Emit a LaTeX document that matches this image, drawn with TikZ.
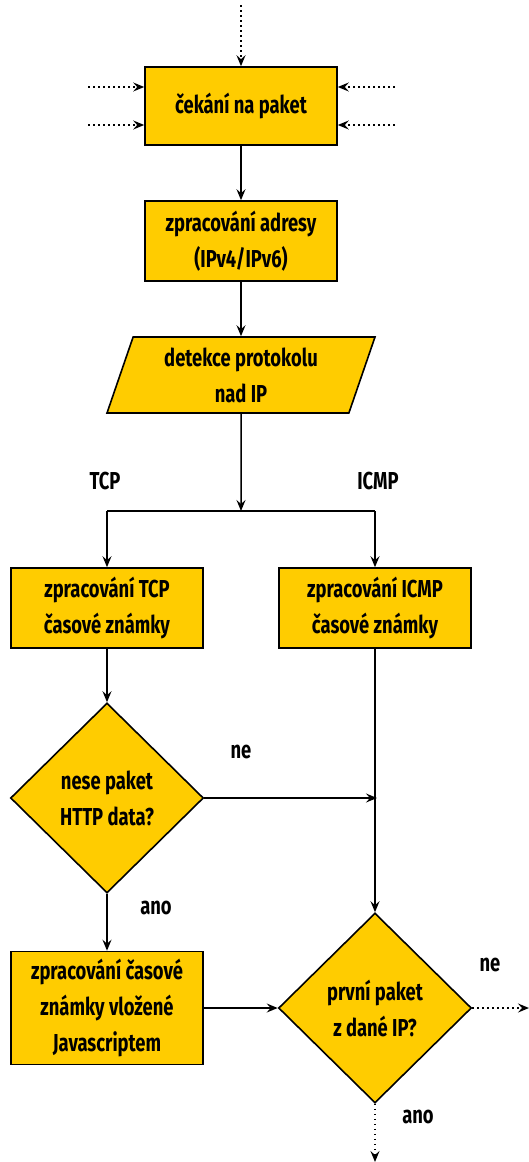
\documentclass[tikz,border=0pt]{standalone}
\usepackage{fontspec}
\setmainfont{Fira Sans}[FakeStretch=0.75]
\usetikzlibrary{arrows.meta,shapes.geometric,positioning}
\definecolor{boxfill}{RGB}{255,204,0}
\tikzset{
  txt/.style={font=\fontsize{24.5}{36}\selectfont\bfseries},
  base/.style={draw=black, line width=1.6pt, fill=boxfill, txt,
    align=center, inner sep=0pt},
  procbox/.style={base, rectangle, minimum width=192pt, minimum height=78pt},
  iobox/.style={base, trapezium, trapezium left angle=64.6, trapezium right angle=115.4,
    trapezium stretches body=true, minimum width=268pt, minimum height=76pt},
  decision/.style={base, diamond, minimum width=193pt, minimum height=190pt},
  lbl/.style={txt, inner sep=0pt},
  tip/.style={-{Stealth[length=11pt,width=9pt,inset=4pt]}},
  flow/.style={line width=1.5pt, tip},
  flowplain/.style={line width=1.5pt},
  ext/.style={line width=1.6pt, dash pattern=on 1.6pt off 3.4pt, tip}
}
\begin{document}
\begin{tikzpicture}[x=1pt,y=-1pt]
\useasboundingbox (0,0) rectangle (529,1162);

% process steps
\node[procbox] (wait) at (241,106) {čekání na paket};
\node[procbox, minimum height=80pt] (addr) at (241,241) {zpracování adresy\\(IPv4/IPv6)};
\node[iobox] (proto) at (241,375) {detekce protokolu\\nad IP};
\node[procbox, minimum height=80pt] (tcp) at (107,608) {zpracování TCP\\časové známky};
\node[procbox, minimum height=80pt] (icmp) at (375,608) {zpracování ICMP\\časové známky};
\node[decision] (http) at (107,798) {nese paket\\HTTP data?};
\node[procbox, minimum height=113pt] (js) at (107,1008) {zpracování časové\\známky vložené\\Javascriptem};
\node[decision] (first) at (375,1008) {první paket\\z dané IP?};

% helper points
\coordinate (topin) at (241,5);
\coordinate (inL1) at (88,87);
\coordinate (inL2) at (88,125);
\coordinate (inR1) at (395,87);
\coordinate (inR2) at (395,125);
\coordinate (split) at (241,511);
\coordinate (splitL) at (107,511);
\coordinate (splitR) at (375,511);
\coordinate (join) at (377,798);
\coordinate (outR) at (529,1008);
\coordinate (outB) at (375,1162);

% incoming packets
\draw[ext] (topin) -- (wait.north);
\draw[ext] (inL1) -- (inL1 -| wait.west);
\draw[ext] (inL2) -- (inL2 -| wait.west);
\draw[ext] (inR1) -- (inR1 -| wait.east);
\draw[ext] (inR2) -- (inR2 -| wait.east);

% main flow
\draw[flow] (wait) -- (addr);
\draw[flow] (addr) -- (proto);
\draw[flow] (proto.south) -- (split);
\draw[flowplain] (splitL) -- (splitR);
\draw[flow] (splitL) -- (tcp.north);
\draw[flow] (splitR) -- (icmp.north);
\draw[flow] (tcp) -- (http);
\draw[flow] (http.east) -- (join);
\draw[flow] (icmp.south) -- (first.north);
\draw[flow] (http.south) -- (js.north);
\draw[flow] (js.east) -- (first.west);
\draw[ext] (first.east) -- (outR);
\draw[ext] (first.south) -- (outB);

% branch labels
\node[lbl] (ltcp) at (105,481) {TCP};
\node[lbl] (licmp) at (378,481) {ICMP};
\node[lbl] (lne1) at (241,752) {ne};
\node[lbl] (lano1) at (156,908) {ano};
\node[lbl] (lne2) at (490,965) {ne};
\node[lbl] (lano2) at (418,1117) {ano};
\end{tikzpicture}
\end{document}
